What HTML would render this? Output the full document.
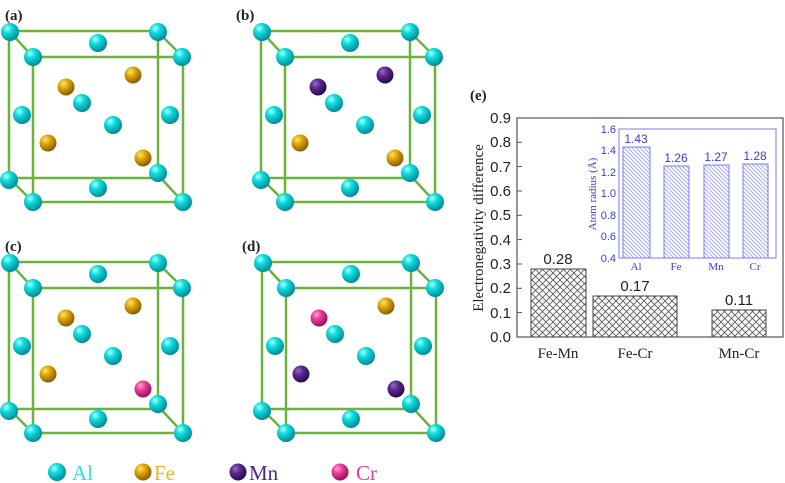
<!DOCTYPE html>
<html><head><meta charset="utf-8"><style>
html,body{margin:0;padding:0;background:#fff;}
svg{display:block;}
</style></head><body>
<svg width="785" height="483" viewBox="0 0 785 483" xmlns="http://www.w3.org/2000/svg">
<defs>
<radialGradient id="gc" cx="0.35" cy="0.3" r="0.7"><stop offset="0" stop-color="#b8ffff"/><stop offset="0.35" stop-color="#10e0e0"/><stop offset="1" stop-color="#008c99"/></radialGradient>
<radialGradient id="gf" cx="0.35" cy="0.3" r="0.7"><stop offset="0" stop-color="#ffe27a"/><stop offset="0.4" stop-color="#e0a800"/><stop offset="1" stop-color="#8a5e00"/></radialGradient>
<radialGradient id="gm" cx="0.35" cy="0.3" r="0.7"><stop offset="0" stop-color="#9a6ac8"/><stop offset="0.4" stop-color="#5a2a90"/><stop offset="1" stop-color="#2a0a50"/></radialGradient>
<radialGradient id="gp" cx="0.35" cy="0.3" r="0.7"><stop offset="0" stop-color="#ffa0d8"/><stop offset="0.4" stop-color="#e8409a"/><stop offset="1" stop-color="#9a1060"/></radialGradient>
<circle id="A" r="9" fill="url(#gc)"/>
<circle id="F" r="8.5" fill="url(#gf)"/>
<circle id="M" r="8.5" fill="url(#gm)"/>
<circle id="P" r="8.5" fill="url(#gp)"/>
<g id="cube">
 <g stroke="#6cb33e" stroke-width="2.5" fill="none">
  <rect x="9" y="31" width="149" height="147"/>
  <rect x="33" y="57" width="150" height="145"/>
  <line x1="10" y1="32" x2="33" y2="57"/><line x1="158" y1="32" x2="183" y2="57"/>
  <line x1="9" y1="178" x2="33" y2="202"/><line x1="158" y1="175" x2="183" y2="202"/>
 </g>
 <use href="#A" x="10" y="32"/><use href="#A" x="158" y="32"/>
 <use href="#A" x="98" y="43"/>
 <use href="#A" x="33" y="57"/><use href="#A" x="182" y="57"/>
 <use href="#A" x="82" y="103"/><use href="#A" x="113" y="125"/>
 <use href="#A" x="22" y="115"/><use href="#A" x="170" y="115"/>
 <use href="#A" x="9" y="180"/><use href="#A" x="158" y="173"/>
 <use href="#A" x="98" y="188"/>
 <use href="#A" x="33" y="202"/><use href="#A" x="183" y="202"/>
</g>
<pattern id="xh" width="7" height="7" patternUnits="userSpaceOnUse">
 <rect width="7" height="7" fill="#fff"/>
 <path d="M0,0L7,7M7,0L0,7" stroke="#555" stroke-width="0.8"/>
</pattern>
<pattern id="dh" width="4" height="4" patternUnits="userSpaceOnUse">
 <rect width="4" height="4" fill="#fff"/>
 <path d="M-1,-1L5,5M-1,3L1,5M3,-1L5,1" stroke="#9da0ee" stroke-width="0.8"/>
</pattern>
</defs>

<g font-family="Liberation Serif, serif" font-weight="bold" font-size="15" fill="#222">
<text x="5" y="20">(a)</text><text x="236" y="20">(b)</text>
<text x="5" y="251">(c)</text><text x="242" y="251">(d)</text>
<text x="470" y="100">(e)</text>
</g>

<g><use href="#cube"/>
 <use href="#F" x="66" y="87"/><use href="#F" x="133" y="75"/><use href="#F" x="48" y="143"/><use href="#F" x="143" y="158"/></g>
<g transform="translate(252,0)"><use href="#cube"/>
 <use href="#M" x="66" y="87"/><use href="#M" x="133" y="75"/><use href="#F" x="48" y="143"/><use href="#F" x="143" y="158"/></g>
<g transform="translate(0,231)"><use href="#cube"/>
 <use href="#F" x="66" y="87"/><use href="#F" x="133" y="75"/><use href="#F" x="48" y="143"/><use href="#P" x="143" y="158"/></g>
<g transform="translate(253,231)"><use href="#cube"/>
 <use href="#P" x="66" y="87"/><use href="#F" x="133" y="75"/><use href="#M" x="48" y="143"/><use href="#M" x="143" y="158"/></g>

<use href="#A" x="57" y="472"/><use href="#F" x="143" y="472"/><use href="#M" x="238" y="472"/><use href="#P" x="340" y="472"/>
<g font-family="Liberation Serif, serif" font-size="21">
<text x="72" y="480" fill="#2ee0e0">Al</text>
<text x="154" y="480" fill="#e8b820">Fe</text>
<text x="249" y="480" fill="#4a2a80">Mn</text>
<text x="356" y="480" fill="#e0409a">Cr</text>
</g>

<rect x="531" y="269" width="55" height="68" fill="url(#xh)" stroke="#444" stroke-width="1"/>
<rect x="593" y="296" width="84" height="41" fill="url(#xh)" stroke="#444" stroke-width="1"/>
<rect x="712" y="310" width="54" height="27" fill="url(#xh)" stroke="#444" stroke-width="1"/>
<rect x="517" y="118" width="266" height="219" fill="none" stroke="#555" stroke-width="1.2"/>
<g stroke="#555" stroke-width="1">
<line x1="517" y1="142.3" x2="522" y2="142.3"/><line x1="517" y1="166.6" x2="522" y2="166.6"/><line x1="517" y1="191" x2="522" y2="191"/><line x1="517" y1="215.3" x2="522" y2="215.3"/><line x1="517" y1="239.6" x2="522" y2="239.6"/><line x1="517" y1="264" x2="522" y2="264"/><line x1="517" y1="288.3" x2="522" y2="288.3"/><line x1="517" y1="312.6" x2="522" y2="312.6"/>
</g>
<g font-family="Liberation Sans, sans-serif" font-size="15" fill="#222" text-anchor="end">
<text x="511" y="123">0.9</text><text x="511" y="147">0.8</text><text x="511" y="172">0.7</text><text x="511" y="196">0.6</text><text x="511" y="220">0.5</text><text x="511" y="245">0.4</text><text x="511" y="269">0.3</text><text x="511" y="293">0.2</text><text x="511" y="318">0.1</text><text x="511" y="342">0.0</text>
</g>
<g font-family="Liberation Sans, sans-serif" font-size="15" fill="#222" text-anchor="middle">
<text x="558" y="264">0.28</text><text x="635" y="291">0.17</text><text x="739" y="305">0.11</text>
</g>
<g font-family="Liberation Serif, serif" font-size="15" fill="#222" text-anchor="middle">
<text x="558" y="358">Fe-Mn</text><text x="635" y="358">Fe-Cr</text><text x="739" y="358">Mn-Cr</text>
<text transform="translate(483,228) rotate(-90)">Electronegativity difference</text>
</g>

<rect x="623" y="147" width="27" height="111" fill="url(#dh)" stroke="#7a7df0" stroke-width="1"/>
<rect x="664" y="166" width="25" height="92" fill="url(#dh)" stroke="#7a7df0" stroke-width="1"/>
<rect x="704" y="165" width="25" height="93" fill="url(#dh)" stroke="#7a7df0" stroke-width="1"/>
<rect x="743" y="164" width="25" height="94" fill="url(#dh)" stroke="#7a7df0" stroke-width="1"/>
<rect x="619" y="129" width="157" height="129" fill="none" stroke="#7a7df0" stroke-width="1"/>
<g font-family="Liberation Sans, sans-serif" font-size="11" fill="#3a3ae0" text-anchor="end">
<text x="616" y="133">1.6</text><text x="616" y="154">1.4</text><text x="616" y="176">1.2</text><text x="616" y="197">1.0</text><text x="616" y="219">0.8</text><text x="616" y="240">0.6</text><text x="616" y="262">0.4</text>
</g>
<g font-family="Liberation Sans, sans-serif" font-size="12" fill="#3a3ae0" text-anchor="middle">
<text x="636" y="143">1.43</text><text x="676" y="162">1.26</text><text x="716" y="161">1.27</text><text x="755" y="160">1.28</text>
</g>
<g font-family="Liberation Serif, serif" font-size="11" fill="#3a3ae0" text-anchor="middle">
<text x="636" y="270">Al</text><text x="676" y="270">Fe</text><text x="716" y="270">Mn</text><text x="755" y="270">Cr</text>
<text transform="translate(596,194) rotate(-90)">Atom radius (Å)</text>
</g>
</svg>
</body></html>
